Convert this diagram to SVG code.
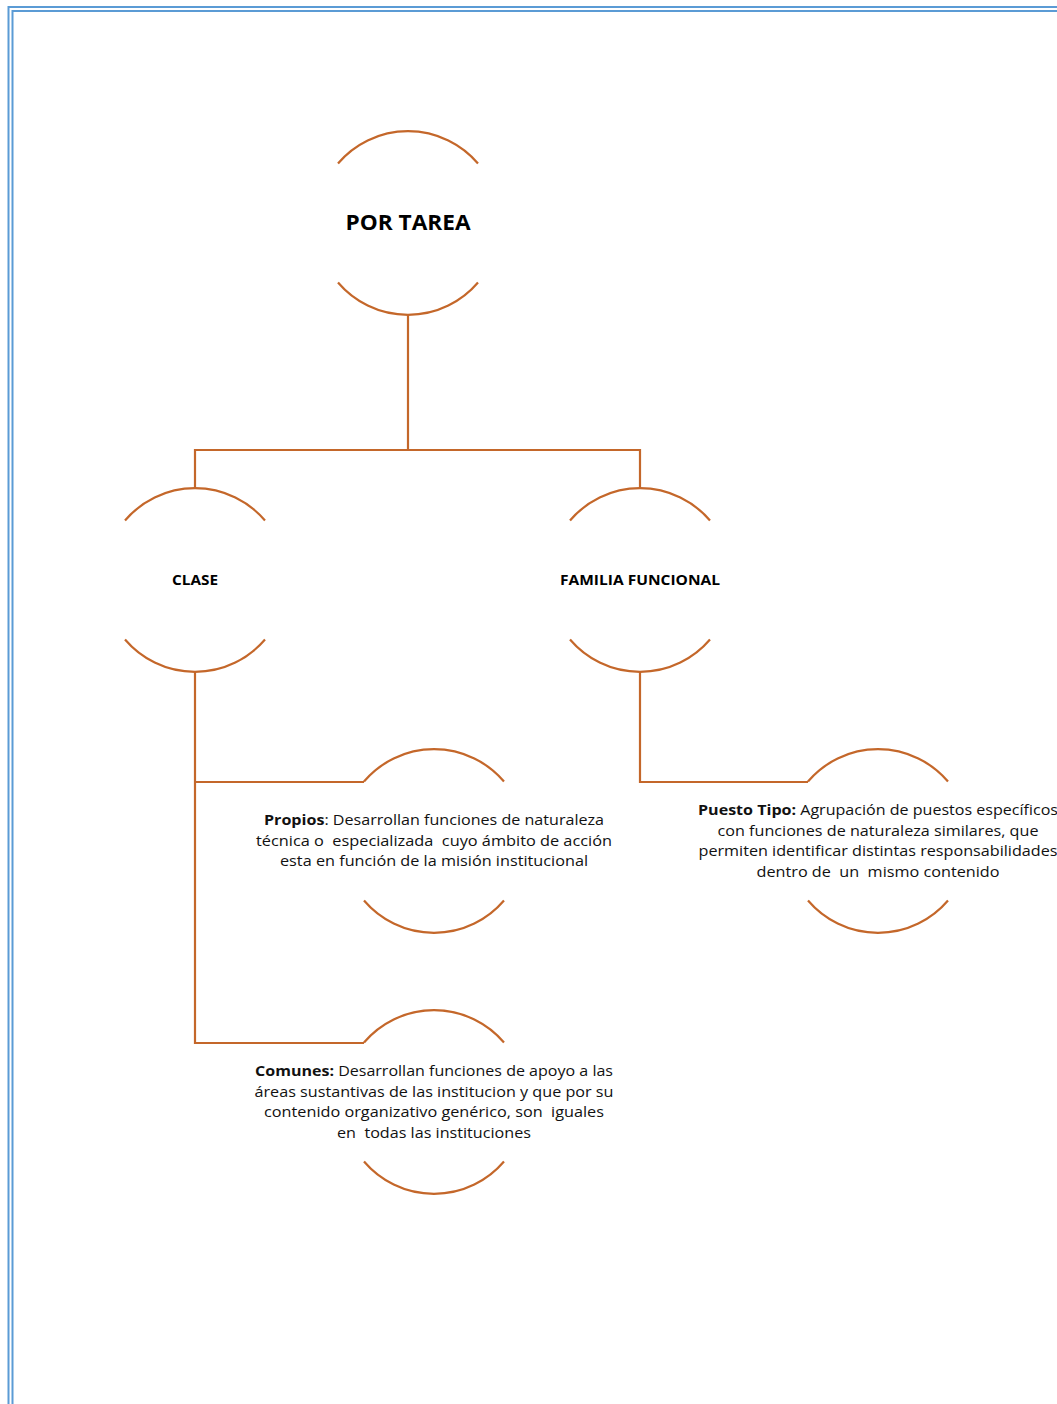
<svg xmlns="http://www.w3.org/2000/svg" width="1057" height="1404" viewBox="0 0 1057 1404">
<style>
.arc{fill:none;stroke:#C4672A;stroke-width:2.2}
.con{fill:none;stroke:#C4672A;stroke-width:2.2}
.bd{fill:none;stroke:#5B9BD5;stroke-width:2}
.t{font-family:"Open Sans","Noto Sans","Liberation Sans",sans-serif;font-size:14.5px;fill:#111;text-anchor:middle}
.b{font-weight:bold}
.h{font-family:"Open Sans","Noto Sans","Liberation Sans",sans-serif;font-weight:bold;fill:#000;text-anchor:middle}
</style>
<defs>
<path id="circ" d="M-70,-59.5 A92,92 0 0 1 70,-59.5 M-70,59.5 A92,92 0 0 0 70,59.5"/>
</defs>
<rect width="1057" height="1404" fill="#fff"/>
<g id="border">
<path class="bd" d="M8.5,1404 V7 H1057"/>
<path class="bd" d="M12.5,1404 V11 H1057"/>
</g>
<g id="connectors">
<path class="con" d="M408,315 V450 M195,488 V450 H640 V488"/>
<path class="con" d="M195,672 V1043 H364 M195,782 H364"/>
<path class="con" d="M640,672 V782 H808"/>
</g>
<g id="por-tarea">
<use href="#circ" class="arc" transform="translate(408,223)"/>
<text class="h" x="408" y="230" font-size="21" textLength="125" lengthAdjust="spacingAndGlyphs">POR TAREA</text>
</g>
<g id="clase">
<use href="#circ" class="arc" transform="translate(195,580)"/>
<text class="h" x="195" y="585" font-size="14" textLength="46" lengthAdjust="spacingAndGlyphs">CLASE</text>
</g>
<g id="familia-funcional">
<use href="#circ" class="arc" transform="translate(640,580)"/>
<text class="h" x="640" y="585" font-size="14" textLength="160" lengthAdjust="spacingAndGlyphs">FAMILIA FUNCIONAL</text>
</g>
<g id="propios">
<use href="#circ" class="arc" transform="translate(434,841)"/>
<text class="t" x="434" y="825" textLength="340" lengthAdjust="spacingAndGlyphs"><tspan class="b">Propios</tspan>: Desarrollan funciones de naturaleza</text>
<text class="t" x="434" y="846" textLength="356" lengthAdjust="spacingAndGlyphs" xml:space="preserve">técnica o  especializada  cuyo ámbito de acción</text>
<text class="t" x="434" y="866" textLength="308" lengthAdjust="spacingAndGlyphs">esta en función de la misión institucional</text>
</g>
<g id="puesto-tipo">
<use href="#circ" class="arc" transform="translate(878,841)"/>
<text class="t" x="878" y="815" textLength="360" lengthAdjust="spacingAndGlyphs"><tspan class="b">Puesto Tipo:</tspan> Agrupación de puestos específicos</text>
<text class="t" x="878" y="836" textLength="321" lengthAdjust="spacingAndGlyphs">con funciones de naturaleza similares, que</text>
<text class="t" x="878" y="856" textLength="359" lengthAdjust="spacingAndGlyphs">permiten identificar distintas responsabilidades</text>
<text class="t" x="878" y="877" textLength="243" lengthAdjust="spacingAndGlyphs" xml:space="preserve">dentro de  un  mismo contenido</text>
</g>
<g id="comunes">
<use href="#circ" class="arc" transform="translate(434,1102)"/>
<text class="t" x="434" y="1076" textLength="358" lengthAdjust="spacingAndGlyphs"><tspan class="b">Comunes:</tspan> Desarrollan funciones de apoyo a las</text>
<text class="t" x="434" y="1097" textLength="359" lengthAdjust="spacingAndGlyphs">áreas sustantivas de las institucion y que por su</text>
<text class="t" x="434" y="1117" textLength="340" lengthAdjust="spacingAndGlyphs" xml:space="preserve">contenido organizativo genérico, son  iguales</text>
<text class="t" x="434" y="1138" textLength="194" lengthAdjust="spacingAndGlyphs" xml:space="preserve">en  todas las instituciones</text>
</g>
</svg>
